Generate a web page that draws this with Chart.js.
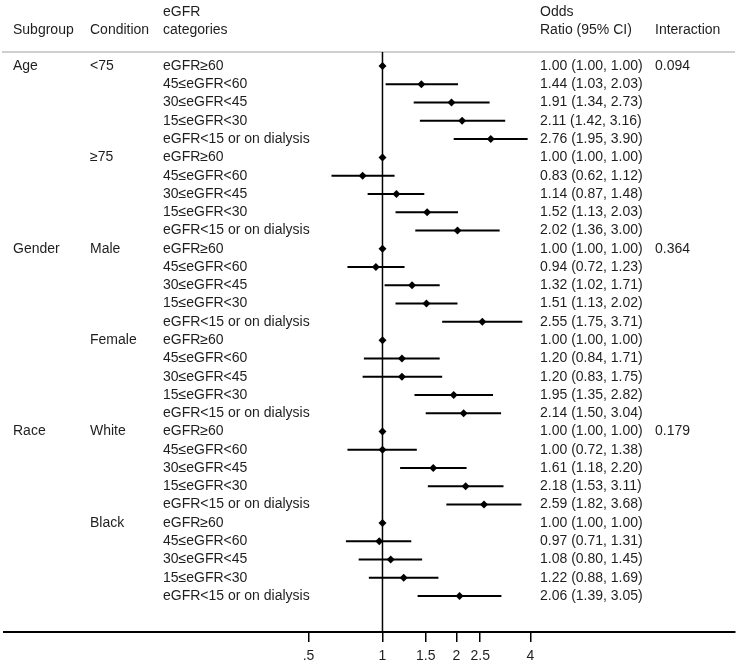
<!DOCTYPE html>
<html>
<head>
<meta charset="utf-8">
<script src="https://cdn.jsdelivr.net/npm/chart.js@4/dist/chart.umd.min.js"></script>
<style>
html,body{margin:0;padding:0;background:#fff;}
#wrap{width:744px;height:663px;position:relative;}
</style>
</head>
<body>
<div id="wrap"><canvas id="c" width="744" height="663"></canvas></div>
<script>
// ---- data ----
const subgroups = [{row:0,label:'Age'},{row:10,label:'Gender'},{row:20,label:'Race'}];
const conditions = [{row:0,label:'<75'},{row:5,label:'≥75'},{row:10,label:'Male'},{row:15,label:'Female'},{row:20,label:'White'},{row:25,label:'Black'}];
const interactions = [{row:0,label:'0.094'},{row:10,label:'0.364'},{row:20,label:'0.179'}];
const categories = ['eGFR≥60','45≤eGFR<60','30≤eGFR<45','15≤eGFR<30','eGFR<15 or on dialysis'];
const oddsRatio = [1.00,1.44,1.91,2.11,2.76, 1.00,0.83,1.14,1.52,2.02, 1.00,0.94,1.32,1.51,2.55, 1.00,1.20,1.20,1.95,2.14, 1.00,1.00,1.61,2.18,2.59, 1.00,0.97,1.08,1.22,2.06];
const ciLow    = [1.00,1.03,1.34,1.42,1.95, 1.00,0.62,0.87,1.13,1.36, 1.00,0.72,1.02,1.13,1.75, 1.00,0.84,0.83,1.35,1.50, 1.00,0.72,1.18,1.53,1.82, 1.00,0.71,0.80,0.88,1.39];
const ciHigh   = [1.00,2.03,2.73,3.16,3.90, 1.00,1.12,1.48,2.03,3.00, 1.00,1.23,1.71,2.02,3.71, 1.00,1.71,1.75,2.82,3.04, 1.00,1.38,2.20,3.11,3.68, 1.00,1.31,1.45,1.69,3.05];
const xTicks = [0.5,1,1.5,2,2.5,4];
const xTickLabels = ['.5','1','1.5','2','2.5','4'];

const nRows = oddsRatio.length;
const rowIdx = oddsRatio.map((_,i)=>i);

const ciSegments = [];
rowIdx.forEach(i=>{
  ciSegments.push({x:ciLow[i], y:i});
  ciSegments.push({x:ciHigh[i], y:i});
  ciSegments.push({x:1, y:null});
});
const points = rowIdx.map(i=>({x:oddsRatio[i], y:i}));

const FONT = '14px "Liberation Sans", Arial, sans-serif';
const TXT = '#1e1e1e';

const textPlugin = {
  id:'forestText',
  beforeDatasetsDraw(chart){
    const ctx = chart.ctx, ca = chart.chartArea, xs = chart.scales.x;
    ctx.save();
    // header rule
    ctx.strokeStyle = '#cfcfcf';
    ctx.lineWidth = 2;
    ctx.beginPath(); ctx.moveTo(2, ca.top); ctx.lineTo(735, ca.top); ctx.stroke();
    // reference line at OR = 1
    const x1 = xs.getPixelForValue(1);
    ctx.strokeStyle = '#000';
    ctx.lineWidth = 1.5;
    ctx.beginPath(); ctx.moveTo(x1, ca.top); ctx.lineTo(x1, ca.bottom); ctx.stroke();
    ctx.restore();
  },
  afterDraw(chart){
    const ctx = chart.ctx, ys = chart.scales.y;
    ctx.save();
    ctx.font = FONT;
    ctx.fillStyle = TXT;
    ctx.textBaseline = 'middle';
    ctx.textAlign = 'left';
    // headers
    ctx.fillText('Subgroup', 13, 30);
    ctx.fillText('Condition', 90, 30);
    ctx.fillText('eGFR', 163, 12);
    ctx.fillText('categories', 163, 30);
    ctx.fillText('Odds', 540, 12);
    ctx.fillText('Ratio (95% CI)', 540, 30);
    ctx.fillText('Interaction', 655, 30);
    subgroups.forEach(s=>ctx.fillText(s.label, 13, ys.getPixelForValue(s.row)));
    conditions.forEach(s=>ctx.fillText(s.label, 90, ys.getPixelForValue(s.row)));
    interactions.forEach(s=>ctx.fillText(s.label, 655, ys.getPixelForValue(s.row)));
    rowIdx.forEach(i=>{
      const y = ys.getPixelForValue(i);
      ctx.fillText(categories[i % categories.length], 163, y);
      ctx.fillText(oddsRatio[i].toFixed(2)+' ('+ciLow[i].toFixed(2)+', '+ciHigh[i].toFixed(2)+')', 540, y);
    });
    ctx.restore();
  }
};

new Chart(document.getElementById('c'), {
  type:'scatter',
  data:{
    datasets:[
      {type:'line', data:ciSegments, showLine:true, spanGaps:false, borderColor:'#000', borderWidth:2, pointRadius:0, pointHoverRadius:0, fill:false},
      {type:'scatter', data:points, pointStyle:'rectRot', pointRadius:4, pointBackgroundColor:'#000', pointBorderColor:'#000', pointBorderWidth:0}
    ]
  },
  options:{
    responsive:false,
    animation:false,
    events:[],
    layout:{padding:{top:52,left:3,right:9,bottom:0}},
    plugins:{legend:{display:false}, tooltip:{enabled:false}},
    scales:{
      x:{
        type:'logarithmic',
        position:'bottom',
        bounds:'data',
        min:0.02877, max:27.25,
        afterBuildTicks(scale){ scale.ticks = xTicks.map(v=>({value:v})); },
        afterFit(scale){ scale.height = 31; },
        ticks:{
          autoSkip:false, maxRotation:0, padding:6, color:TXT,
          font:{family:'"Liberation Sans", Arial, sans-serif', size:14},
          callback(v){ const k = xTicks.indexOf(v); return k>=0 ? xTickLabels[k] : ''; }
        },
        grid:{display:true, drawOnChartArea:false, drawTicks:true, tickLength:10, color:'#000', lineWidth:1.5},
        border:{display:true, color:'#000', width:2}
      },
      y:{
        type:'linear', display:false, reverse:true,
        min:-0.766, max:30.97
      }
    }
  },
  plugins:[textPlugin]
});
</script>
</body>
</html>
